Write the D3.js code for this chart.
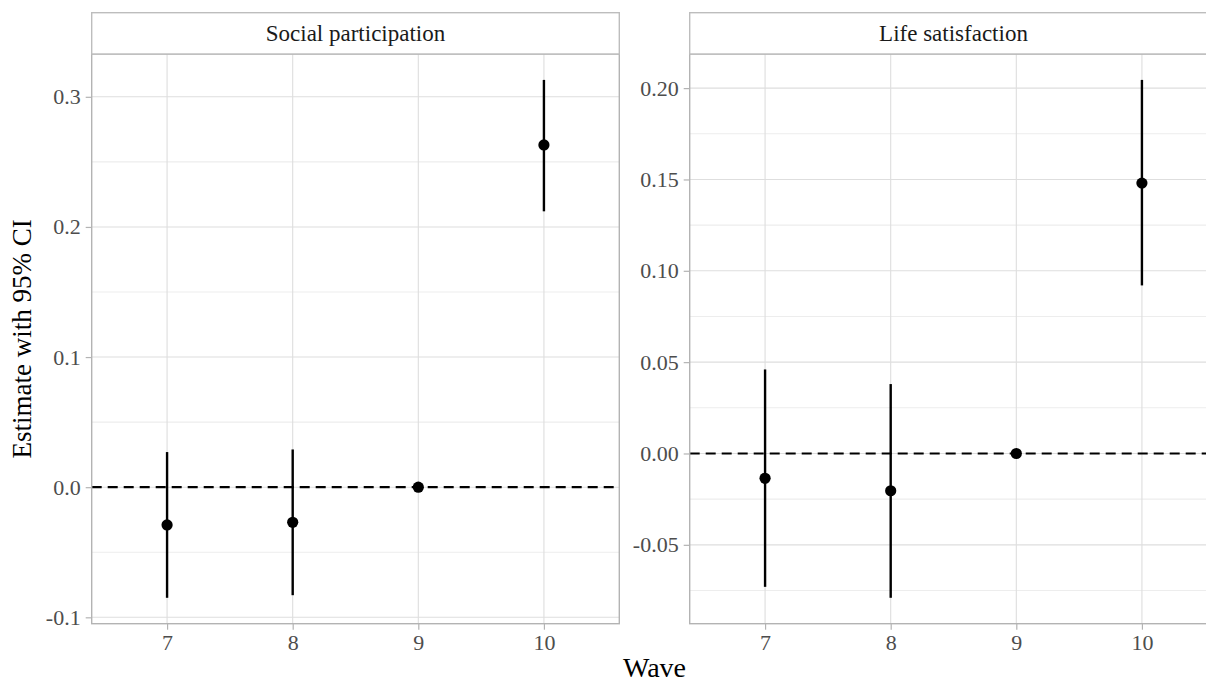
<!DOCTYPE html>
<html>
<head>
<meta charset="utf-8">
<script src="https://cdn.jsdelivr.net/npm/d3@7"></script>
<style>
  body { margin: 0; background: #fff; overflow: hidden; }
  text { font-family: "Liberation Serif", "DejaVu Serif", serif; }
</style>
</head>
<body>
<div id="chart"></div>
<script>
// waves on the x axis
var waves = [7, 8, 9, 10];
var panelTitles = ["Social participation", "Life satisfaction"];

// Social participation estimates with 95% CI
var socialEst = [-0.029, -0.027, 0, 0.263];
var socialLo = [-0.085, -0.083, 0, 0.212];
var socialHi = [0.027, 0.029, 0, 0.313];

// Life satisfaction estimates with 95% CI
var lifeEst = [-0.0136, -0.0204, 0, 0.148];
var lifeLo = [-0.073, -0.079, 0, 0.092];
var lifeHi = [0.046, 0.038, 0, 0.2045];

// y tick labels
var socialTicks = [-0.1, 0, 0.1, 0.2, 0.3];
var socialTickLabels = ["-0.1", "0.0", "0.1", "0.2", "0.3"];
var lifeTicks = [-0.05, 0, 0.05, 0.1, 0.15, 0.2];
var lifeTickLabels = ["-0.05", "0.00", "0.05", "0.10", "0.15", "0.20"];

var svgWidth = 1220;
var svgHeight = 684;

var panelTop = 54;
var panelBottom = 623.7;
var stripTop = 12.7;
var panelW = 527.6;
var panelLefts = [91.7, 689.7];

var svg = d3.select("#chart")
  .append("svg")
  .attr("width", svgWidth)
  .attr("height", svgHeight);

var panels = [
  { est: socialEst, lo: socialLo, hi: socialHi, ticks: socialTicks, labels: socialTickLabels, minor: [-0.05, 0.05, 0.15, 0.25] },
  { est: lifeEst, lo: lifeLo, hi: lifeHi, ticks: lifeTicks, labels: lifeTickLabels, minor: [-0.075, -0.025, 0.025, 0.075, 0.125, 0.175] }
];

panels.forEach(function(p, i) {
  var left = panelLefts[i];
  var g = svg.append("g").attr("transform", `translate(${left}, 0)`);

  // x scale: discrete waves with ggplot style 0.6 expansion
  var x = d3.scaleLinear()
    .domain([6.4, 10.6])
    .range([0, panelW]);

  // y scale with 5% expansion of data range
  var yMin = d3.min(p.lo), yMax = d3.max(p.hi);
  var pad = (yMax - yMin) * 0.05;
  var y = d3.scaleLinear()
    .domain([yMin - pad, yMax + pad])
    .range([panelBottom, panelTop]);

  // minor grid
  g.selectAll(".minor")
    .data(p.minor)
    .enter()
    .append("line")
    .attr("x1", 0).attr("x2", panelW)
    .attr("y1", d => y(d)).attr("y2", d => y(d))
    .attr("stroke", "#ededed")
    .attr("stroke-width", 1.1);

  // major grid
  g.selectAll(".majorY")
    .data(p.ticks)
    .enter()
    .append("line")
    .attr("x1", 0).attr("x2", panelW)
    .attr("y1", d => y(d)).attr("y2", d => y(d))
    .attr("stroke", "#dedede")
    .attr("stroke-width", 1.1);

  g.selectAll(".majorX")
    .data(waves)
    .enter()
    .append("line")
    .attr("x1", d => x(d)).attr("x2", d => x(d))
    .attr("y1", panelTop).attr("y2", panelBottom)
    .attr("stroke", "#dedede")
    .attr("stroke-width", 1.1);

  // dashed zero line
  g.append("line")
    .attr("x1", 0).attr("x2", panelW)
    .attr("y1", y(0)).attr("y2", y(0))
    .attr("stroke", "#000")
    .attr("stroke-width", 2.2)
    .attr("stroke-dasharray", "10,6");

  // error bars
  g.selectAll(".ci")
    .data(waves)
    .enter()
    .append("line")
    .attr("x1", d => x(d)).attr("x2", d => x(d))
    .attr("y1", (d, j) => y(p.lo[j]))
    .attr("y2", (d, j) => y(p.hi[j]))
    .attr("stroke", "#000")
    .attr("stroke-width", 2.4);

  // points
  g.selectAll(".pt")
    .data(waves)
    .enter()
    .append("circle")
    .attr("cx", d => x(d))
    .attr("cy", (d, j) => y(p.est[j]))
    .attr("r", 5.6)
    .attr("fill", "#000");

  // panel border
  g.append("rect")
    .attr("x", 0).attr("y", panelTop)
    .attr("width", panelW).attr("height", panelBottom - panelTop)
    .attr("fill", "none")
    .attr("stroke", "#b3b3b3")
    .attr("stroke-width", 1.4);

  // strip
  g.append("rect")
    .attr("x", 0).attr("y", stripTop)
    .attr("width", panelW).attr("height", panelTop - stripTop)
    .attr("fill", "#fff")
    .attr("stroke", "#bdbdbd")
    .attr("stroke-width", 1.4);

  g.append("text")
    .attr("x", panelW / 2)
    .attr("y", (stripTop + panelTop) / 2)
    .attr("dy", "0.35em")
    .attr("text-anchor", "middle")
    .attr("font-size", 23)
    .attr("fill", "#1a1a1a")
    .text(panelTitles[i]);

  // y axis
  var leftAxis = d3.axisLeft(y)
    .tickValues(p.ticks)
    .tickFormat((d, j) => p.labels[j])
    .tickSize(6)
    .tickPadding(5);

  var ya = g.append("g").call(leftAxis);
  ya.select(".domain").remove();
  ya.selectAll(".tick line").attr("stroke", "#b3b3b3").attr("stroke-width", 1.2);
  ya.selectAll(".tick text")
    .attr("font-size", 22)
    .attr("font-family", "Liberation Serif")
    .attr("fill", "#4d4d4d");

  // x axis
  var bottomAxis = d3.axisBottom(x)
    .tickValues(waves)
    .tickFormat(d3.format("d"))
    .tickSize(6)
    .tickPadding(5);

  var xa = g.append("g")
    .attr("transform", `translate(0, ${panelBottom})`)
    .call(bottomAxis);
  xa.select(".domain").remove();
  xa.selectAll(".tick line").attr("stroke", "#b3b3b3").attr("stroke-width", 1.2);
  xa.selectAll(".tick text")
    .attr("font-size", 22)
    .attr("font-family", "Liberation Serif")
    .attr("fill", "#4d4d4d");
});

// axis titles
svg.append("text")
  .attr("x", (panelLefts[0] + panelLefts[1] + panelW) / 2)
  .attr("y", 677)
  .attr("text-anchor", "middle")
  .attr("font-size", 28)
  .attr("fill", "#000")
  .text("Wave");

svg.append("text")
  .attr("transform", `translate(31, ${(panelTop + panelBottom) / 2}) rotate(-90)`)
  .attr("text-anchor", "middle")
  .attr("font-size", 27)
  .attr("fill", "#000")
  .text("Estimate with 95% CI");
</script>
</body>
</html>
